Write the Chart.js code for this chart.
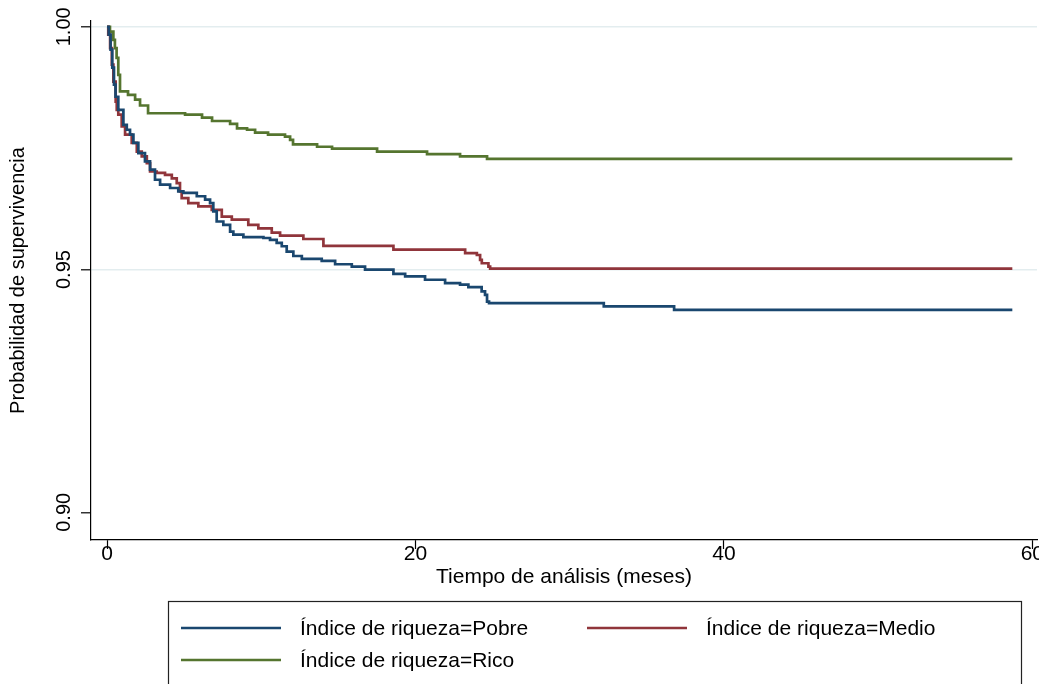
<!DOCTYPE html>
<html>
<head>
<meta charset="utf-8">
<script src="https://cdn.jsdelivr.net/npm/chart.js@4"></script>
<style>
  html, body { margin: 0; padding: 0; background: #fff; }
  canvas { display: block; }
</style>
</head>
<body>
<canvas id="km" width="1039" height="684"></canvas>
<script>
// Kaplan-Meier estimates (time in months, survival prob.)
const pobreT = [0, 0.11, 0.23, 0.34, 0.45, 0.55, 0.73, 1.06, 1.28, 1.49, 1.71, 2.03, 2.46, 2.79, 3.11, 3.44, 4.09, 4.62, 4.95, 5.82, 6.36, 6.68, 6.89, 7.11, 7.54, 7.98, 8.19, 8.84, 10.14, 10.57, 11.0, 11.33, 11.65, 12.08, 12.63, 13.92, 14.79, 15.87, 16.73, 18.57, 19.33, 20.62, 21.92, 22.89, 23.43, 24.29, 24.51, 24.64, 24.77, 32.21, 36.77, 58.7];
const pobreS = [1, 0.9984, 0.9953, 0.9916, 0.9881, 0.9856, 0.9829, 0.9798, 0.9788, 0.9778, 0.9761, 0.974, 0.9723, 0.9706, 0.9685, 0.9675, 0.9668, 0.9661, 0.9658, 0.9651, 0.9644, 0.9637, 0.962, 0.9599, 0.9592, 0.9578, 0.9572, 0.9567, 0.9565, 0.9561, 0.9555, 0.9548, 0.9537, 0.9528, 0.9522, 0.9518, 0.9511, 0.9506, 0.95, 0.9491, 0.9486, 0.9479, 0.9472, 0.9469, 0.9464, 0.9455, 0.9448, 0.9434, 0.9431, 0.9424, 0.9417, 0.9417];

const medioT = [0, 0.08, 0.2, 0.31, 0.41, 0.56, 0.63, 0.73, 0.95, 1.17, 1.6, 1.93, 2.25, 2.58, 2.79, 3.22, 3.76, 4.2, 4.52, 4.73, 4.84, 5.27, 5.92, 6.79, 7.44, 8.09, 9.16, 9.81, 10.68, 11.22, 12.73, 14.03, 18.57, 23.22, 23.98, 24.19, 24.3, 24.73, 24.84, 58.7];
const medioS = [1, 0.9984, 0.9956, 0.9922, 0.9887, 0.9846, 0.9829, 0.9819, 0.9795, 0.9778, 0.9761, 0.9743, 0.9733, 0.9719, 0.9702, 0.9699, 0.9695, 0.9688, 0.9678, 0.9661, 0.9647, 0.9637, 0.963, 0.9623, 0.9609, 0.9603, 0.9592, 0.9585, 0.9576, 0.957, 0.9563, 0.9549, 0.9541, 0.9534, 0.953, 0.952, 0.9513, 0.9506, 0.9502, 0.9502];

const ricoT = [0, 0.19, 0.41, 0.51, 0.62, 0.73, 0.84, 1.36, 1.82, 2.14, 2.66, 5.06, 6.16, 6.81, 7.98, 8.43, 9.08, 9.6, 10.44, 11.54, 11.87, 12.06, 13.62, 14.59, 17.51, 20.75, 22.89, 24.64, 58.7];
const ricoS = [1, 0.999, 0.9973, 0.9956, 0.9936, 0.9901, 0.9867, 0.986, 0.985, 0.9838, 0.9822, 0.9819, 0.9813, 0.9806, 0.98, 0.9791, 0.9788, 0.9782, 0.9778, 0.9774, 0.9767, 0.9758, 0.9753, 0.9749, 0.9743, 0.9738, 0.9733, 0.9728, 0.9728];

const seriesLabels = ['Índice de riqueza=Pobre', 'Índice de riqueza=Medio', 'Índice de riqueza=Rico'];
const seriesColors = ['#1a476f', '#90353b', '#55752f'];

const xTicks = [0, 20, 40, 60];
const yTicks = [0.90, 0.95, 1.00];
const yTickLabels = ['0.90', '0.95', '1.00'];

const FONT = "'Liberation Sans', Arial, Helvetica, sans-serif";
const FONT_SIZE = 21;

const toPoints = (ts, ss) => ts.map((t, i) => ({ x: t, y: ss[i] }));

// y tick labels are drawn rotated, like the Stata graph
const rotatedYTicks = {
    id: 'rotatedYTicks',
    afterDraw(chart) {
        const { ctx } = chart;
        const y = chart.scales.y;
        ctx.save();
        ctx.fillStyle = '#000';
        ctx.font = '20px ' + FONT;
        ctx.textAlign = 'center';
        ctx.textBaseline = 'middle';
        yTicks.forEach((v, i) => {
            ctx.save();
            ctx.translate(64, y.getPixelForValue(v));
            ctx.rotate(-Math.PI / 2);
            ctx.fillText(yTickLabels[i], 0, 0);
            ctx.restore();
        });
        ctx.restore();
    }
};

// boxed legend: two columns, entries in reading order
const boxLegend = {
    id: 'boxLegend',
    afterDraw(chart) {
        const { ctx } = chart;
        ctx.save();
        ctx.strokeStyle = '#222';
        ctx.lineWidth = 1.2;
        ctx.strokeRect(168.5, 601.5, 853, 90);
        ctx.font = FONT_SIZE + 'px ' + FONT;
        ctx.textBaseline = 'middle';
        ctx.textAlign = 'left';
        chart.data.datasets.forEach((ds, i) => {
            const col = i % 2;
            const row = Math.floor(i / 2);
            const lx = 181 + col * 406;
            const ly = 628 + row * 32;
            ctx.strokeStyle = ds.borderColor;
            ctx.lineWidth = 2.5;
            ctx.beginPath();
            ctx.moveTo(lx, ly);
            ctx.lineTo(lx + 100, ly);
            ctx.stroke();
            ctx.fillStyle = '#000';
            ctx.fillText(ds.label, lx + 119, ly + 1);
        });
        ctx.restore();
    }
};

const datasets = [
    toPoints(pobreT, pobreS),
    toPoints(medioT, medioS),
    toPoints(ricoT, ricoS)
].map((data, i) => ({
    label: seriesLabels[i],
    data,
    borderColor: seriesColors[i],
    backgroundColor: seriesColors[i],
    borderWidth: 2.7,
    pointRadius: 0,
    stepped: 'before',
    fill: false
}));

new Chart(document.getElementById('km'), {
    type: 'line',
    data: { datasets },
    options: {
        responsive: false,
        animation: false,
        layout: { padding: { top: 21, right: 2, bottom: 94, left: 0 } },
        plugins: {
            legend: { display: false },
            tooltip: { enabled: false }
        },
        scales: {
            x: {
                type: 'linear',
                min: -1.04,
                max: 60.3,
                afterBuildTicks: (s) => { s.ticks = xTicks.map(v => ({ value: v })); },
                afterFit: (s) => { s.height = 50; s.paddingLeft = 0; s.paddingRight = 0; },
                grid: { drawOnChartArea: false, drawTicks: true, tickLength: 9, tickColor: '#000', tickWidth: 1.2 },
                border: { color: '#000', width: 1.2 },
                ticks: { color: '#000', font: { family: FONT, size: FONT_SIZE }, padding: -7, maxRotation: 0 },
                title: {
                    display: true,
                    text: 'Tiempo de análisis (meses)',
                    color: '#000',
                    font: { family: FONT, size: FONT_SIZE },
                    padding: { top: 0, bottom: 0 }
                }
            },
            y: {
                type: 'linear',
                min: 0.8943,
                max: 1.0012,
                afterBuildTicks: (s) => { s.ticks = yTicks.map(v => ({ value: v })); },
                afterFit: (s) => { s.width = 91; },
                grid: {
                    color: (c) => (c.tick && Math.abs(c.tick.value - 0.9) < 1e-6 ? 'rgba(0,0,0,0)' : '#e3edef'),
                    lineWidth: 1.6,
                    tickLength: 10,
                    tickColor: '#000',
                    tickWidth: 1.2
                },
                border: { color: '#000', width: 1.2 },
                ticks: { display: false },
                title: {
                    display: true,
                    text: 'Probabilidad de supervivencia',
                    color: '#000',
                    font: { family: FONT, size: 20 },
                    padding: { top: 6, bottom: 0 }
                }
            }
        }
    },
    plugins: [rotatedYTicks, boxLegend]
});
</script>
</body>
</html>
